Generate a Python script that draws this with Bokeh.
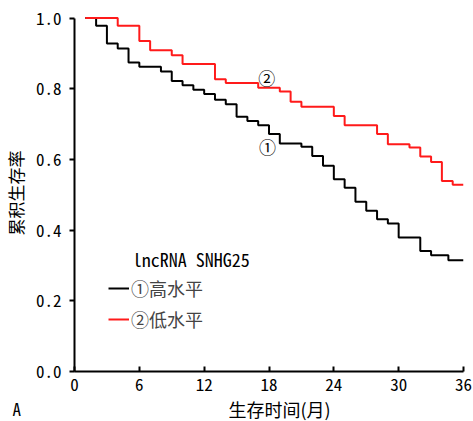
from bokeh.plotting import figure
from bokeh.models import Range1d, Legend, LegendItem, Label, FixedTicker, Title
from bokeh.core.properties import value
from bokeh.embed import file_html
from bokeh.resources import INLINE

# Data (Kaplan-Meier step curves)
t_high = [1, 2, 3, 4, 5, 6, 8, 9, 10, 11, 12, 13, 14, 15, 16, 17, 18, 19, 21, 22,
          23, 24, 25, 26, 27, 28, 29, 30, 32, 33, 34.6, 36]
s_high = [1.0, 0.978, 0.928, 0.914, 0.874, 0.862, 0.849, 0.822, 0.810, 0.797, 0.785,
          0.769, 0.756, 0.721, 0.709, 0.697, 0.672, 0.645, 0.636, 0.610, 0.582, 0.544,
          0.520, 0.480, 0.455, 0.431, 0.419, 0.379, 0.341, 0.329, 0.315, 0.315]
t_low = [1, 4, 6, 7, 9, 10, 13, 14, 17, 19, 20, 21, 24, 25, 28, 29, 31, 32, 33, 34, 35, 36]
s_low = [1.0, 0.978, 0.935, 0.909, 0.895, 0.870, 0.827, 0.816, 0.803, 0.792, 0.763,
         0.749, 0.723, 0.697, 0.672, 0.643, 0.634, 0.608, 0.593, 0.539, 0.528, 0.528]

x_ticks = [0, 6, 12, 18, 24, 30, 36]
y_ticks = [0.0, 0.2, 0.4, 0.6, 0.8, 1.0]
y_tick_labels = {0.0: "0.0", 0.2: "0.2", 0.4: "0.4", 0.6: "0.6", 0.8: "0.8", 1.0: "1.0"}

legend_title = "lncRNA SNHG25"
label_high = "①高水平"
label_low = "②低水平"
x_title = "生存时间(月)"
y_title = "累积生存率"
panel_tag = "A"

MONO = "Noto Sans Mono CJK SC"
CJK = "Noto Sans CJK SC"

p = figure(width=473, height=421, output_backend="svg", toolbar_location=None,
           x_range=Range1d(0, 36), y_range=Range1d(0, 1.01),
           min_border_left=73, min_border_right=10, min_border_top=14, min_border_bottom=50)
p.outline_line_color = None
p.grid.visible = False
p.background_fill_color = "white"
p.border_fill_color = "white"

r_high = p.step(t_high, s_high, mode="after", line_color="black", line_width=2)
r_low = p.step(t_low, s_low, mode="after", line_color="#ff1a1a", line_width=2)

for ax in (p.xaxis[0], p.yaxis[0]):
    ax.axis_line_width = 2
    ax.axis_line_color = "black"
    ax.major_tick_line_width = 2
    ax.major_tick_line_color = "black"
    ax.minor_tick_line_color = None
    ax.major_label_text_font = MONO
    ax.major_label_text_font_size = "17px"
    ax.major_label_text_color = "black"

p.xaxis.ticker = FixedTicker(ticks=x_ticks)
p.xaxis.major_tick_in = 5
p.xaxis.major_tick_out = 0
p.xaxis.major_label_standoff = 6

p.yaxis.ticker = FixedTicker(ticks=y_ticks)
p.yaxis.bounds = (0, 1)
p.yaxis.major_label_overrides = y_tick_labels
p.yaxis.major_tick_in = 0
p.yaxis.major_tick_out = 5
p.yaxis.major_label_standoff = 8
p.yaxis.axis_label = y_title
p.yaxis.axis_label_text_font = CJK
p.yaxis.axis_label_text_font_size = "17px"
p.yaxis.axis_label_text_font_style = "normal"
p.yaxis.axis_label_text_color = "black"
p.yaxis.axis_label_standoff = 5

# Panel tag and x-axis title as titles below the axis, on one row
t_tag = Title(text=panel_tag, align="left", offset=-62, vertical_align="bottom",
              standoff=0, text_font=MONO, text_font_size="17px",
              text_font_style="normal", text_color="black")
t_x = Title(text=x_title, align="left", offset=154, vertical_align="top",
            standoff=-50, text_font=CJK, text_font_size="18px",
            text_font_style="normal", text_color="black")
p.add_layout(t_tag, "below")
p.add_layout(t_x, "below")

# Curve tags
p.text(x=[17.8], y=[0.831], text=["②"], text_font=value(CJK), text_font_size="17px",
       text_align="center", text_baseline="middle", text_color="black")
p.text(x=[17.85], y=[0.636], text=["①"], text_font=value(CJK), text_font_size="17px",
       text_align="center", text_baseline="middle", text_color="black")

# Legend
p.add_layout(Label(x=5.4, y=0.319, x_units="data", y_units="data", text=legend_title,
                   text_font=MONO, text_font_size="18px", text_align="left",
                   text_baseline="middle", text_color="black"))
legend = Legend(items=[LegendItem(label=label_high, renderers=[r_high]),
                       LegendItem(label=label_low, renderers=[r_low])],
                location=(34, 39), padding=0, margin=0, spacing=5,
                glyph_width=21, glyph_height=20, label_height=20, label_standoff=2,
                label_text_font=CJK, label_text_font_size="18px",
                border_line_alpha=0, background_fill_alpha=0)
p.add_layout(legend)

open("out.html", "w").write(file_html(p, INLINE))
